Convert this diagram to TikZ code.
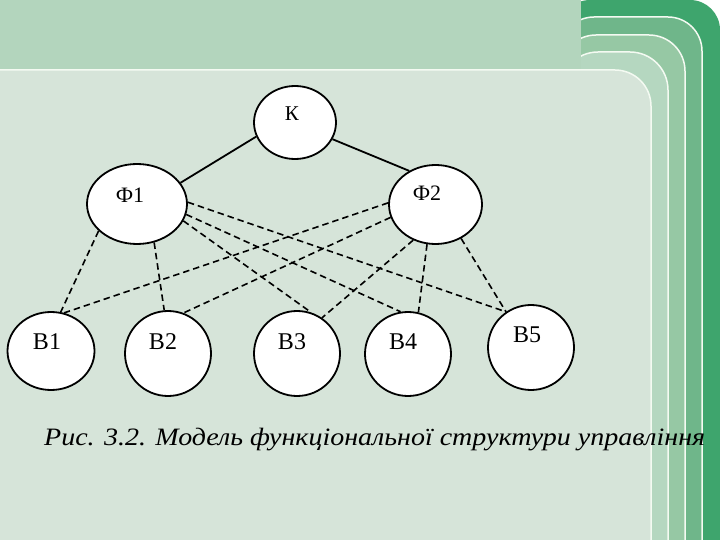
\documentclass[tikz,border=0pt]{standalone}
\usepackage{fontspec}
\setmainfont{Liberation Serif}
\usetikzlibrary{shapes.geometric}
\definecolor{bgc}{HTML}{D6E4D9}
\definecolor{band}{HTML}{B3D5BD}
\definecolor{cA}{HTML}{B5D7C0}
\definecolor{cB}{HTML}{96C8A4}
\definecolor{cC}{HTML}{6FB68A}
\definecolor{cD}{HTML}{3EA56D}
\definecolor{wl}{HTML}{F4FAF2}
\begin{document}
\begin{tikzpicture}[x=1pt,y=-1pt,
  nd/.style={ellipse, draw=black, line width=1.8pt, fill=white, inner sep=0pt},
  solidc/.style={line width=1.8pt},
  dashc/.style={line width=1.6pt, dash pattern=on 6.5pt off 4pt},
  lblB/.style={inner sep=0pt, font=\fontsize{24}{24}\selectfont},
  lblF/.style={inner sep=0pt, font=\fontsize{22}{22}\selectfont},
  lblK/.style={inner sep=0pt, font=\fontsize{21}{21}\selectfont},
  stripe/.style={draw=wl, line width=1.5pt}]
\useasboundingbox (0,0) rectangle (720,540);
\begin{scope}
\clip (0,0) rectangle (720,540);
\fill[white] (0,0) rectangle (720,540);
\fill[cD, rounded corners=30pt] (560,0) rectangle (720,900);
\filldraw[stripe, fill=cC, rounded corners=34pt] (560,17) rectangle (702,900);
\filldraw[stripe, fill=cB, rounded corners=36pt] (560,35) rectangle (685,900);
\filldraw[stripe, fill=cA, rounded corners=38pt] (560,52) rectangle (668,900);
\filldraw[stripe, fill=bgc, rounded corners=36pt] (-80,70) rectangle (651,900);
\fill[band] (0,0) rectangle (581,69.25);
\end{scope}

\node[nd, minimum width=82pt, minimum height=73pt] (K) at (295,122.5) {};
\node[nd, minimum width=100pt, minimum height=80pt] (F1) at (137,204) {};
\node[nd, minimum width=93pt, minimum height=79pt] (F2) at (435.5,204.5) {};
\node[nd, minimum width=87pt, minimum height=78pt] (B1) at (51,351) {};
\node[nd, minimum width=86pt, minimum height=85pt] (B2) at (168,353.5) {};
\node[nd, minimum width=86pt, minimum height=85pt] (B3) at (297,353.5) {};
\node[nd, minimum width=86pt, minimum height=84pt] (B4) at (408,354) {};
\node[nd, minimum width=86pt, minimum height=85pt] (B5) at (531,347.5) {};

\draw[solidc] (K.200) -- (F1.26);
\draw[solidc] (K.336.5) -- (F2.128);

\draw[dashc] (F1.215) -- (B1.76);
\draw[dashc] (F1.294) -- (B2.95);
\draw[dashc] (F1.340) -- (B3.71);
\draw[dashc] (F1.348) -- (B4.100);
\draw[dashc] (F1.2) -- (B5.125);
\draw[dashc] (F2.178) -- (B1.71);
\draw[dashc] (F2.196) -- (B2.69);
\draw[dashc] (F2.238) -- (B3.55);
\draw[dashc] (F2.258) -- (B4.76);
\draw[dashc] (F2.307) -- (B5.125);

\node[lblK] (Kt) at (292,114) {К};
\node[lblF] (F1t) at (130,195) {Ф1};
\node[lblF] (F2t) at (427,193) {Ф2};
\node[lblB] (B1t) at (47,342) {В1};
\node[lblB] (B2t) at (163,342) {В2};
\node[lblB] (B3t) at (292,342) {В3};
\node[lblB] (B4t) at (403,342) {В4};
\node[lblB] (B5t) at (527,335) {В5};

\node[anchor=base west, inner sep=0pt, font=\fontsize{25}{25}\selectfont\itshape] (cap) at (44,445) {\scalebox{1.12}[1]{Рис. 3.2. Модель функціональної структури управління}};
\end{tikzpicture}
\end{document}
